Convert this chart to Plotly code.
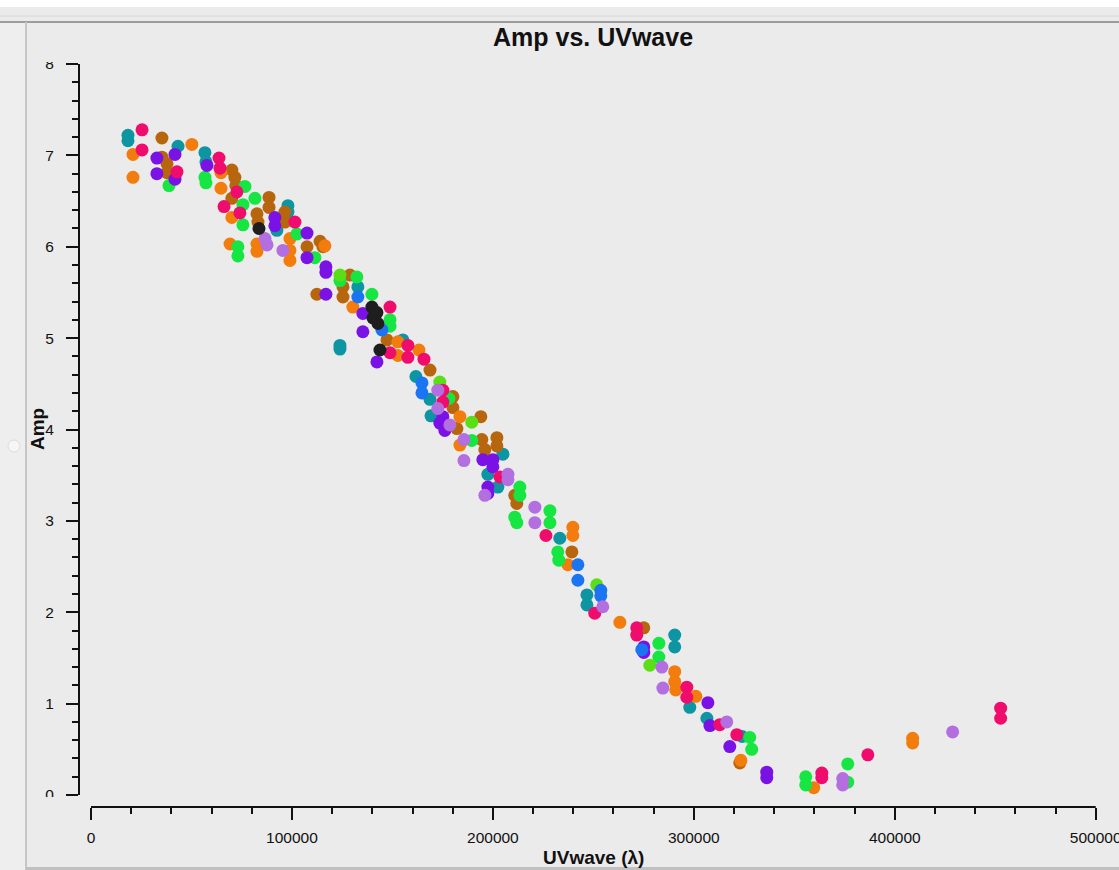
import plotly.graph_objects as go

# ---- data (UVwave in lambda, Amp) ----
teal_x = [18400, 18400, 43300, 56700, 57200, 98000, 98000, 92500, 123900, 123900, 132800, 155200, 161700,
          168700, 169200, 205000, 197500, 202500, 233300, 246800, 246800, 290500, 290500, 298000, 306500, 324000]
teal_y = [7.22, 7.16, 7.10, 7.03, 6.93, 6.45, 6.38, 6.18, 4.92, 4.88, 5.56, 4.98, 4.58,
          4.33, 4.15, 3.73, 3.51, 3.37, 2.81, 2.19, 2.08, 1.75, 1.62, 0.96, 0.84, 0.64]

pink_x = [25400, 25400, 42800, 63700, 64200, 72600, 66200, 74100, 101500, 148800, 148800, 157700, 157700,
          165700, 175100, 175100, 203500, 226400, 250700, 271600, 271600, 296500, 296500, 312900, 321400,
          363700, 363700, 386600, 452700, 452700]
pink_y = [7.28, 7.06, 6.82, 6.97, 6.86, 6.60, 6.44, 6.37, 6.27, 5.34, 4.84, 4.92, 4.79,
          4.77, 4.43, 4.30, 3.48, 2.84, 1.99, 1.83, 1.75, 1.18, 1.07, 0.77, 0.66,
          0.24, 0.19, 0.44, 0.95, 0.84]

brown_x = [35300, 35300, 37800, 37800, 70100, 71600, 72100, 70100, 88600, 88600, 82600, 83100, 96500, 96500,
           107500, 114000, 115400, 128900, 125400, 125400, 112400, 147300, 168700, 180100, 180100, 182100,
           194000, 194500, 196000, 202000, 202000, 210900, 211900, 239300, 275100, 322900]
brown_y = [7.19, 6.98, 6.91, 6.81, 6.84, 6.76, 6.67, 6.53, 6.54, 6.43, 6.36, 6.27, 6.38, 6.27,
           6.00, 6.06, 6.00, 5.69, 5.56, 5.45, 5.48, 4.98, 4.65, 4.36, 4.24, 4.01,
           4.14, 3.89, 3.78, 3.91, 3.82, 3.28, 3.19, 2.66, 1.83, 0.35]

orange_x = [20900, 20900, 50200, 64700, 64700, 70100, 69200, 82600, 82600, 99000, 99000, 99000, 116400,
            130300, 152700, 152700, 163200, 183600, 183600, 239800, 239800, 237300, 263200, 290500, 290500,
            291000, 301000, 323400, 359700, 408900, 408900]
orange_y = [7.01, 6.76, 7.12, 6.81, 6.64, 6.32, 6.03, 6.03, 5.95, 6.09, 5.96, 5.85, 6.01,
            5.34, 4.81, 4.96, 4.87, 4.14, 3.83, 2.93, 2.84, 2.52, 1.89, 1.35, 1.24,
            1.15, 1.08, 0.38, 0.08, 0.62, 0.57]

purple_x = [32800, 32800, 41800, 41800, 57700, 91500, 91500, 107500, 107500, 116900, 116900, 116900,
            135300, 135300, 142300, 175100, 173600, 176100, 195000, 200000, 200000, 197500, 197500,
            275100, 275100, 307000, 308000, 317900, 336300, 336300]
purple_y = [6.97, 6.80, 7.01, 6.74, 6.89, 6.32, 6.23, 6.15, 5.88, 5.78, 5.72, 5.48,
            5.27, 5.07, 4.74, 4.14, 4.07, 3.99, 3.67, 3.67, 3.59, 3.37, 3.30,
            1.62, 1.56, 1.01, 0.76, 0.53, 0.25, 0.19]

green_x = [38800, 56700, 57200, 76600, 81600, 75600, 75600, 73100, 73100, 102500, 111400, 123900, 132300,
           139800, 148800, 148800, 178100, 189500, 213400, 213400, 210900, 211900, 228400, 228400, 232300,
           232800, 282600, 282600, 327800, 328800, 355700, 355700, 376600, 376600]
green_y = [6.67, 6.76, 6.70, 6.66, 6.53, 6.46, 6.24, 6.00, 5.90, 6.14, 5.88, 5.63, 5.67,
           5.48, 5.20, 5.13, 4.34, 3.88, 3.37, 3.28, 3.04, 2.98, 3.11, 2.98, 2.66,
           2.57, 1.66, 1.51, 0.63, 0.50, 0.20, 0.11, 0.34, 0.14]

lime_x = [123900, 173600, 189500, 251700, 278100]
lime_y = [5.69, 4.52, 4.08, 2.30, 1.42]

blue_x = [144800, 132800, 164700, 164700, 242300, 242300, 253700, 253700, 274100]
blue_y = [5.09, 5.45, 4.51, 4.40, 2.52, 2.35, 2.24, 2.18, 1.59]

lavender_x = [86600, 87600, 95500, 172600, 172600, 178600, 185600, 185600, 207500, 207500, 196000, 220900,
              220900, 254700, 284100, 284600, 316400, 374100, 374100, 428800]
lavender_y = [6.09, 6.02, 5.96, 4.43, 4.23, 4.05, 3.89, 3.66, 3.51, 3.45, 3.28, 3.15,
              2.98, 2.06, 1.40, 1.17, 0.80, 0.18, 0.11, 0.69]

black_x = [83600, 139800, 140300, 142800, 143800, 142300]
black_y = [6.20, 5.34, 5.22, 5.16, 4.87, 5.28]

x_ticks = [0, 100000, 200000, 300000, 400000, 500000]
y_ticks = [0, 1, 2, 3, 4, 5, 6, 7, 8]

series = [
    ("#0e95a2", teal_x, teal_y),
    ("#b7660e", brown_x, brown_y),
    ("#f27c0c", orange_x, orange_y),
    ("#16e642", green_x, green_y),
    ("#5ade16", lime_x, lime_y),
    ("#7a12e6", purple_x, purple_y),
    ("#f00c6c", pink_x, pink_y),
    ("#1b74f2", blue_x, blue_y),
    ("#b36ee0", lavender_x, lavender_y),
    ("#1e1e1e", black_x, black_y),
]

fig = go.Figure()
for color, xs, ys in series:
    fig.add_trace(go.Scatter(x=xs, y=ys, mode="markers",
                             marker=dict(color=color, size=13, symbol="circle", line=dict(width=0)),
                             hoverinfo="skip", showlegend=False))

BG = "#ebebeb"
INK = "#111111"
FONT = "Liberation Sans, Arial, sans-serif"

fig.update_layout(
    width=1119, height=870,
    margin=dict(l=79, r=23, t=64, b=63, autoexpand=False),
    paper_bgcolor=BG, plot_bgcolor=BG,
    font=dict(family=FONT, color=INK),
    xaxis=dict(range=[-5970, 500150], showgrid=False, zeroline=False, showline=False,
               automargin=False,
               tickmode="array", tickvals=x_ticks, ticktext=[str(v) for v in x_ticks],
               ticks="outside", ticklen=12, tickwidth=2, tickcolor=INK,
               tickfont=dict(size=15.5, family=FONT, color=INK), ticklabelstandoff=4,
               ticklabeloverflow="allow",
               minor=dict(tickmode="linear", tick0=0, dtick=20000, ticks="outside", ticklen=6,
                          tickwidth=2, tickcolor=INK, showgrid=False)),
    yaxis=dict(range=[-0.1313, 8], showgrid=False, zeroline=False, showline=False,
               automargin=False,
               tickmode="array", tickvals=y_ticks, ticktext=[str(v) for v in y_ticks],
               ticks="outside", ticklen=12, tickwidth=2, tickcolor=INK,
               tickfont=dict(size=15.5, family=FONT, color=INK), ticklabelstandoff=9,
               minor=dict(tickmode="linear", tick0=0, dtick=0.2, ticks="outside", ticklen=6,
                          tickwidth=2, tickcolor=INK, showgrid=False)),
    showlegend=False,
)

# axis lines limited to the data span
fig.add_shape(type="line", xref="x", yref="paper", x0=0, x1=500000, y0=0, y1=0,
              line=dict(color=INK, width=2))
fig.add_shape(type="line", xref="paper", yref="y", x0=0, x1=0, y0=0, y1=8,
              line=dict(color=INK, width=2))

# clip end labels like the original
fig.add_shape(type="rect", xref="paper", yref="paper", x0=-0.045, x1=-0.0147, y0=1.0027, y1=1.03,
              fillcolor=BG, line=dict(width=0), layer="above")
fig.add_shape(type="rect", xref="paper", yref="paper", x0=-0.045, x1=-0.0147, y0=0.0013, y1=0.0134,
              fillcolor=BG, line=dict(width=0), layer="above")

# window frame decorations
fig.add_shape(type="rect", xref="paper", yref="paper", x0=-0.1, x1=1.1, y0=1.0767, y1=1.2,
              fillcolor="#ffffff", line=dict(width=0), layer="below")
fig.add_shape(type="line", xref="paper", yref="paper", x0=-0.1, x1=1.1, y0=1.0645, y1=1.0645,
              line=dict(color="#d6d6d6", width=1))
fig.add_shape(type="line", xref="paper", yref="paper", x0=-0.1, x1=1.1, y0=1.0565, y1=1.0565,
              line=dict(color="#9c9c9c", width=2))
fig.add_shape(type="rect", xref="paper", yref="paper", x0=-0.1, x1=-0.0531, y0=-0.1, y1=1.0565,
              fillcolor="#eeeeee", line=dict(width=0), layer="below")
fig.add_shape(type="line", xref="paper", yref="paper", x0=-0.0521, x1=-0.0521, y0=-0.085, y1=1.0565,
              line=dict(color="#c6c6c6", width=2))
fig.add_shape(type="line", xref="paper", yref="paper", x0=-0.0521, x1=1.1, y0=-0.0828, y1=-0.0828,
              line=dict(color="#c0c0c0", width=3))
fig.add_shape(type="circle", xref="paper", yref="paper", x0=-0.0698, x1=-0.058, y0=0.4778, y1=0.4939,
              fillcolor="#f6f6f6", line=dict(color="#dcdcdc", width=1))

# titles
fig.add_annotation(text="<b>Amp vs. UVwave</b>", xref="x", yref="paper", x=250000, y=1.0363,
                   xanchor="center", yanchor="middle", showarrow=False,
                   font=dict(size=25, family=FONT, color=INK))
fig.add_annotation(text="<b>UVwave (λ)</b>", xref="x", yref="paper", x=250000, y=-0.0686,
                   xanchor="center", yanchor="middle", showarrow=False,
                   font=dict(size=19, family=FONT, color=INK))
fig.add_annotation(text="<b>Amp</b>", xref="paper", yref="paper", x=-0.0413, y=0.5087,
                   xanchor="center", yanchor="middle", showarrow=False, textangle=-90,
                   font=dict(size=19, family=FONT, color=INK))

fig.write_html("out.html", config={"displayModeBar": False})
